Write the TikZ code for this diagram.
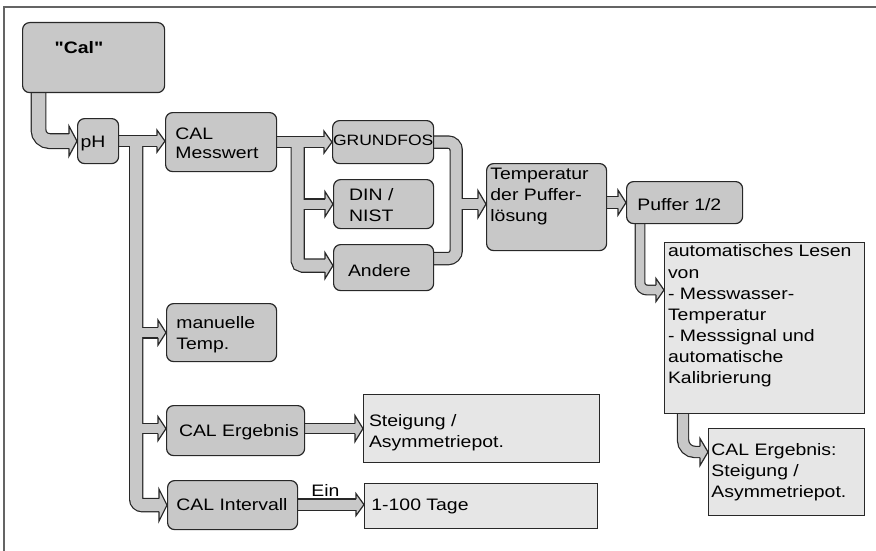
\documentclass[tikz,border=0pt]{standalone}
\usepackage{fontspec}
\setmainfont{Liberation Sans}[FakeStretch=1.17, Ligatures=TeXOff]
\usetikzlibrary{calc}

\pgfdeclarelayer{shaftedge}
\pgfdeclarelayer{shaftfill}
\pgfdeclarelayer{heads}
\pgfsetlayers{shaftedge,shaftfill,heads,main}

\definecolor{boxgray}{RGB}{200,200,200}
\definecolor{panelgray}{RGB}{230,230,230}
\definecolor{edgecol}{RGB}{40,40,40}
\definecolor{framecol}{RGB}{100,100,100}

% wide band connector: [#1] path options, #2 inner band width, #3 path
\newcommand\band[3][]{%
  \begin{pgfonlayer}{shaftedge}\draw[#1, draw=edgecol, line width=#2pt+2.4pt] #3;\end{pgfonlayer}%
  \begin{pgfonlayer}{shaftfill}\draw[#1, draw=boxgray, line width=#2pt] #3;\end{pgfonlayer}}

% chevron head pointing right: #1 tip, #2 half height, #3 half band width
\newcommand\bandhead[3]{%
  \begin{pgfonlayer}{heads}%
  \filldraw[fill=boxgray, draw=edgecol, line width=1.2pt, line join=miter]
    ($(#1)+(-8,-#3)$) -- ($(#1)+(-8,-#2)$) -- (#1) -- ($(#1)+(-8,#2)$) -- ($(#1)+(-8,#3)$);
  \end{pgfonlayer}}

\tikzset{
  rbox/.style={draw=edgecol, line width=1.2pt, fill=boxgray, rounded corners=7pt,
    inner sep=0pt, anchor=north west},
  pbox/.style={draw=edgecol, line width=1.2pt, fill=panelgray,
    inner sep=0pt, anchor=north west},
  txt/.style={inner sep=0pt, anchor=north west, align=left,
    font=\fontsize{16.6}{21}\selectfont},
}

\begin{document}
\begin{tikzpicture}[x=1pt, y=-1pt]
\useasboundingbox (0,0) rectangle (876,551);

% page frame
\draw[framecol, line width=1.8pt] (4,551) -- (4,7) -- (876,7);

% ---------- boxes ----------
\node[rbox, minimum width=142pt, minimum height=70pt] (cal) at (22,22) {};
\node[rbox, minimum width=41pt,  minimum height=45pt] (ph) at (77,118) {};
\node[rbox, minimum width=111pt, minimum height=59pt] (messwert) at (165,112) {};
\node[rbox, minimum width=101pt, minimum height=43pt] (grundfos) at (332,120) {};
\node[rbox, minimum width=100pt, minimum height=49pt] (din) at (333,179) {};
\node[rbox, minimum width=100pt, minimum height=46pt] (andere) at (333,244) {};
\node[rbox, minimum width=120pt, minimum height=87pt] (temp) at (486,163) {};
\node[rbox, minimum width=116pt, minimum height=42pt] (puffer) at (626,181) {};
\node[pbox, minimum width=200pt, minimum height=171pt] (auto) at (664,242) {};
\node[pbox, minimum width=156pt, minimum height=87pt] (ergbox) at (708,428) {};
\node[rbox, minimum width=110pt, minimum height=58pt] (manuelle) at (166,303) {};
\node[rbox, minimum width=138pt, minimum height=50pt] (ergebnis) at (166,405) {};
\node[pbox, minimum width=236pt, minimum height=68pt] (steigung) at (363,394) {};
\node[rbox, minimum width=130pt, minimum height=49pt] (intervall) at (167,480) {};
\node[pbox, minimum width=233pt, minimum height=45pt] (tage) at (364,483) {};

% ---------- texts ----------
\node[txt] (cal-t) at (54.5,41) {\textbf{"Cal"}};
\node[txt] (ph-t) at (80.5,136.2) {pH};
\node[txt, font=\fontsize{16.6}{19}\selectfont] (messwert-t) at (175.2,128) {CAL\\Messwert};
\node[txt, font=\fontsize{15}{19}\selectfont] (grundfos-t) at (332.8,135.2) {GRUNDFOS};
\node[txt, font=\fontsize{16.6}{21.7}\selectfont] (din-t) at (349,188) {DIN /\\NIST};
\node[txt] (andere-t) at (347.8,264.7) {Andere};
\node[txt] (temp-t) at (490.2,168) {Temperatur\\der Puffer-\\lösung};
\node[txt] (puffer-t) at (637.2,198) {Puffer 1/2};
\node[txt, font=\fontsize{16.6}{21.1}\selectfont] (auto-t) at (667.8,244.7)
  {automatisches Lesen\\von\\- Messwasser-\\Temperatur\\- Messsignal und\\automatische\\Kalibrierung};
\node[txt, font=\fontsize{16.6}{21.3}\selectfont] (ergbox-t) at (711.2,443)
  {CAL Ergebnis:\\Steigung /\\Asymmetriepot.};
\node[txt, font=\fontsize{16.6}{20.7}\selectfont] (manuelle-t) at (176.2,316.3) {manuelle\\Temp.};
\node[txt] (ergebnis-t) at (178.8,424.7) {CAL Ergebnis};
\node[txt] (steigung-t) at (368.8,414.7) {Steigung /\\Asymmetriepot.};
\node[txt] (intervall-t) at (176.2,498) {CAL Intervall};
\node[txt] (tage-t) at (371.2,498.7) {1-100 Tage};
\node[txt] (ein-t) at (311.2,484.5) {Ein};

% ---------- connector anchors ----------
\coordinate (tipMw)   at (ph.east -| messwert.west);
\coordinate (phjoin)  at ($(ph.east)+(17,0)$);
\coordinate (tipMan)  at (manuelle.west);
\coordinate (tipErg)  at ($(ergebnis.west)+(0,-2)$);
\coordinate (tipInt)  at (intervall.west);
\coordinate (tipSt)   at (steigung.west);
\coordinate (tipTage) at ($(tage.west)+(0,-1.5)$);
\coordinate (mwjoin)  at ($(messwert.east)+(20.5,0)$);
\coordinate (tipGr)   at (grundfos.west);
\coordinate (tipDin)  at (din.west);
\coordinate (tipAnd)  at ($(andere.west)+(0,-2)$);
\coordinate (mergeR)  at ($(andere.east)+(22,-9)$);
\coordinate (tipTemp) at ($(temp.west)+(0,-3)$);
\coordinate (tipPuf)  at (puffer.west);
\coordinate (tipAuto) at ($(auto.north west)+(0,48)$);
\coordinate (tipCE)   at ($(ergbox.north west)+(0,24)$);

% "Cal" -> pH
\band[rounded corners=11pt]{13.5}{($(cal.south west)+(16.5,-6)$) |- ($(ph.west)+(-7.5,0)$)}
\bandhead{ph.west}{15}{7.35}

% pH -> CAL Messwert
\band{10}{($(ph.east)+(-5,0)$) -- ($(tipMw)+(-7.5,0)$)}
\bandhead{tipMw}{11}{5.6}

% pH trunk -> manuelle Temp., CAL Ergebnis, CAL Intervall
\band[rounded corners=6pt]{12}{(phjoin) |- ($(tipInt)+(-7.5,0)$)}
\band{9.5}{(phjoin |- tipMan) -- ($(tipMan)+(-7.5,0)$)}
\band{9}{(phjoin |- tipErg) -- ($(tipErg)+(-7.5,0)$)}
\bandhead{tipMan}{12.5}{5.35}
\bandhead{tipErg}{12}{5.1}
\bandhead{tipInt}{16}{6.6}

% CAL Ergebnis -> Steigung / Asymmetriepot.
\band{9}{($(ergebnis.east |- tipSt)+(-5,0)$) -- ($(tipSt)+(-7.5,0)$)}
\bandhead{tipSt}{13}{5.1}

% CAL Intervall -> 1-100 Tage
\band{10}{($(intervall.east |- tipTage)+(-5,0)$) -- ($(tipTage)+(-7.5,0)$)}
\bandhead{tipTage}{11}{5.6}

% CAL Messwert -> GRUNDFOS, DIN / NIST, Andere
\band{9.5}{($(messwert.east)+(-5,0)$) -- ($(tipGr)+(-7.5,0)$)}
\band[rounded corners=5pt]{12}{(mwjoin) |- ($(tipAnd)+(-7.5,0)$)}
\band{9}{(mwjoin |- tipDin) -- ($(tipDin)+(-7.5,0)$)}
\bandhead{tipGr}{11}{5.35}
\bandhead{tipDin}{12.5}{5.1}
\bandhead{tipAnd}{13}{6.6}

% GRUNDFOS / Andere -> Temperatur der Pufferloesung
\band[rounded corners=8pt]{11}{($(grundfos.east)+(-5,0)$) -| (mergeR) -- ($(andere.east |- mergeR)+(-5,0)$)}
\band{10}{(mergeR |- tipTemp) -- ($(tipTemp)+(-7.5,0)$)}
\bandhead{tipTemp}{13.5}{5.6}

% Temperatur -> Puffer 1/2
\band{10.5}{($(temp.east |- tipPuf)+(-5,0)$) -- ($(tipPuf)+(-7.5,0)$)}
\bandhead{tipPuf}{12.5}{5.85}

% Puffer 1/2 -> automatisches Lesen
\band[rounded corners=7pt]{8.5}{($(puffer.south west)+(14,-8)$) |- ($(tipAuto)+(-7.5,0)$)}
\bandhead{tipAuto}{11.5}{4.85}

% automatisches Lesen -> CAL Ergebnis: Steigung / Asymmetriepot.
\band[rounded corners=12pt]{10}{($(auto.south west)+(19,-8)$) |- ($(tipCE)+(-7.5,0)$)}
\bandhead{tipCE}{13.5}{5.6}

\end{tikzpicture}
\end{document}
